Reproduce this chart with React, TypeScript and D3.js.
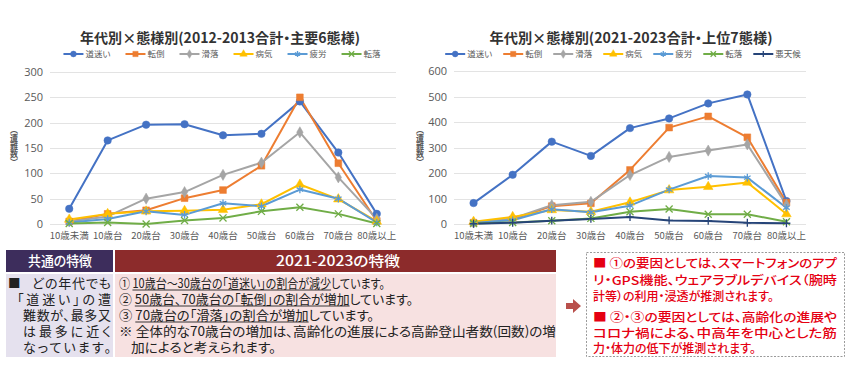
import React, { useRef, useEffect } from 'react';
import * as d3 from 'd3';

// categories
const ages = ['10歳未満', '10歳台', '20歳台', '30歳台', '40歳台', '50歳台', '60歳台', '70歳台', '80歳以上'];
const seriesNames = ['道迷い', '転倒', '滑落', '病気', '疲労', '転落', '悪天候'];
const seriesColors = ['#4472C4', '#ED7D31', '#A5A5A5', '#FFC000', '#5B9BD5', '#70AD47', '#264478'];

// 2012-2013 (main 6)
const lost2013 = [30, 165, 196, 197, 175, 178, 242, 141, 20];
const fall2013 = [5, 20, 27, 51, 67, 115, 250, 120, 6];
const slip2013 = [5, 15, 50, 63, 97, 121, 181, 92, 10];
const ill2013 = [9, 20, 25, 26, 28, 39, 78, 49, 5];
const tired2013 = [3, 10, 25, 18, 41, 35, 68, 50, 3];
const drop2013 = [1, 3, 0, 7, 12, 25, 33, 20, 1];

// 2021-2023 (top 7)
const lost2023 = [82, 193, 323, 267, 376, 414, 473, 508, 90];
const fall2023 = [5, 18, 70, 81, 212, 378, 422, 340, 84];
const slip2023 = [6, 22, 74, 87, 192, 263, 288, 312, 75];
const ill2023 = [9, 28, 55, 48, 85, 133, 146, 163, 39];
const tired2023 = [4, 15, 58, 46, 72, 135, 188, 182, 64];
const drop2023 = [2, 6, 13, 22, 48, 59, 38, 38, 9];
const weather2023 = [1, 5, 13, 20, 27, 14, 12, 5, 3];

const yTicksLeft = [0, 50, 100, 150, 200, 250, 300];
const yTicksRight = [0, 100, 200, 300, 400, 500, 600];

const titleLeft = '年代別×態様別(2012-2013合計・主要6態様)';
const titleRight = '年代別×態様別(2021-2023合計・上位7態様)';
const yTitle = '（遭難数）';

const commonHead = '共通の特徴';
const recentHead = '2021-2023の特徴';
const commonLines = ['どの年代でも', '「道迷い」の遭', '難数が、最多又', 'は最多に近く', 'なっています。'];
const recentLines = [
  [['① ', false], ['10歳台～30歳台の「道迷い」の割合が減少', true], ['しています。', false]],
  [['② ', false], ['50歳台、70歳台の「転倒」の割合が増加', true], ['しています。', false]],
  [['③ ', false], ['70歳台の「滑落」の割合が増加', true], ['しています。', false]],
  [['※ 全体的な70歳台の増加は、高齢化の進展による高齢登山者数(回数)の増', false]],
  [['加によると考えられます。', false]],
];
const noteLines = [
  ['■ ①の要因としては、スマートフォンのアプ', 'リ・GPS機能、ウェアラブルデバイス（腕時', '計等）の利用・浸透が推測されます。'],
  ['■ ②・③の要因としては、高齢化の進展や', 'コロナ禍による、中高年を中心とした筋', '力・体力の低下が推測されます。'],
];

const FONT = '"Noto Sans CJK JP", "Noto Sans", sans-serif';

const markers = {
  道迷い: { type: d3.symbolCircle, size: 44, fill: true },
  転倒: { type: d3.symbolSquare, size: 46, fill: true },
  滑落: { type: d3.symbolDiamond, size: 36, fill: true },
  病気: { type: d3.symbolTriangle, size: 40, fill: true },
  疲労: { type: d3.symbolAsterisk, size: 40, fill: false },
  転落: { type: d3.symbolTimes, size: 34, fill: false },
  悪天候: { type: d3.symbolPlus, size: 22, fill: false },
};

const App = () => {
  const svgRef = useRef(null);

  useEffect(() => {
    const svg = d3.select(svgRef.current);
    svg.selectAll('*').remove();
    svg.style('font-family', FONT).style('font-feature-settings', '"palt" 1');

    const drawMarker = (g, name, color, x, y, scale = 1) => {
      const m = markers[name];
      g.append('path')
        .attr('transform', `translate(${x},${y})`)
        .attr('d', d3.symbol().type(m.type).size(m.size * scale)())
        .attr('fill', m.fill ? color : 'none')
        .attr('stroke', color)
        .attr('stroke-width', m.fill ? 0.5 : 1.3);
    };

    const drawChart = ({ series, yTicks, yMax, x0, x1, yTop, yBottom, title, titleX, titleW, legendCx, legendGap, yTitleX }) => {
      const g = svg.append('g');

      const x = d3.scalePoint().domain(ages).range([x0, x1]).padding(0.5);
      const y = d3.scaleLinear().domain([0, yMax]).range([yBottom, yTop]);

      // title
      g.append('text')
        .attr('x', titleX)
        .attr('y', 43)
        .attr('text-anchor', 'middle')
        .attr('font-size', 14)
        .attr('font-weight', 'bold')
        .attr('fill', '#333')
        .attr('textLength', titleW)
        .attr('lengthAdjust', 'spacingAndGlyphs')
        .text(title);

      // grid
      g.append('g')
        .selectAll('line')
        .data(yTicks)
        .join('line')
        .attr('x1', x0)
        .attr('x2', x1)
        .attr('y1', d => Math.round(y(d)) + 0.5)
        .attr('y2', d => Math.round(y(d)) + 0.5)
        .attr('stroke', '#E3E3E3');

      // y labels
      g.append('g')
        .selectAll('text')
        .data(yTicks)
        .join('text')
        .attr('x', x0 - 7)
        .attr('y', d => y(d) + 4)
        .attr('text-anchor', 'end')
        .attr('font-size', 11)
        .attr('fill', '#595959')
        .style('font-family', '"Open Sans", "Noto Sans", sans-serif')
        .text(d => d);

      // x labels
      g.append('g')
        .selectAll('text')
        .data(ages)
        .join('text')
        .attr('x', d => x(d))
        .attr('y', yBottom + 15)
        .attr('text-anchor', 'middle')
        .attr('font-size', 9.5)
        .attr('fill', '#595959')
        .text(d => d);

      // y title (vertical)
      g.append('text')
        .attr('x', yTitleX)
        .attr('y', 146)
        .attr('text-anchor', 'middle')
        .style('writing-mode', 'vertical-rl')
        .attr('font-size', 8)
        .attr('font-weight', 'bold')
        .attr('fill', '#595959')
        .text(yTitle);

      // lines
      const line = d3.line().x((d, i) => x(ages[i])).y(d => y(d));
      series.forEach(s => {
        g.append('path')
          .datum(s.values)
          .attr('fill', 'none')
          .attr('stroke', s.color)
          .attr('stroke-width', 2)
          .attr('stroke-linejoin', 'round')
          .attr('d', line);
      });
      series.forEach(s => {
        s.values.forEach((v, i) => drawMarker(g, s.name, s.color, x(ages[i]), y(v)));
      });

      // legend
      const lg = g.append('g');
      const items = series.map(s => {
        const it = lg.append('g');
        it.append('line').attr('x1', 0).attr('x2', 20).attr('y1', 0).attr('y2', 0)
          .attr('stroke', s.color).attr('stroke-width', 2);
        drawMarker(it, s.name, s.color, 10, 0, 0.6);
        const t = it.append('text').attr('x', 22).attr('y', 3)
          .attr('font-size', 8.5).attr('fill', '#595959').text(s.name);
        return { it, w: 22 + t.node().getComputedTextLength() };
      });
      const total = d3.sum(items, d => d.w) + legendGap * (items.length - 1);
      let cx = legendCx - total / 2;
      items.forEach(d => {
        d.it.attr('transform', `translate(${cx},54)`);
        cx += d.w + legendGap;
      });
    };

    const mk = (vals) => vals.map((values, i) => ({ name: seriesNames[i], color: seriesColors[i], values }));

    drawChart({
      series: mk([lost2013, fall2013, slip2013, ill2013, tired2013, drop2013]),
      yTicks: yTicksLeft, yMax: 300, x0: 50, x1: 396, yTop: 72, yBottom: 224,
      title: titleLeft, titleX: 220, titleW: 280, legendCx: 222, legendGap: 15, yTitleX: 14,
    });
    drawChart({
      series: mk([lost2023, fall2023, slip2023, ill2023, tired2023, drop2023, weather2023]),
      yTicks: yTicksRight, yMax: 600, x0: 454, x1: 806, yTop: 71, yBottom: 224,
      title: titleRight, titleX: 631, titleW: 283, legendCx: 623, legendGap: 11, yTitleX: 420,
    });

    // bottom panels
    const b = svg.append('g');
    b.append('rect').attr('x', 6).attr('y', 250).attr('width', 107).attr('height', 22).attr('fill', '#3D2D5C');
    b.append('rect').attr('x', 115).attr('y', 250).attr('width', 441).attr('height', 22).attr('fill', '#8C2B2B');
    b.append('rect').attr('x', 6).attr('y', 274).attr('width', 107).attr('height', 83).attr('fill', '#E5E1EE');
    b.append('rect').attr('x', 115).attr('y', 274).attr('width', 441).attr('height', 83).attr('fill', '#F7E1E1');

    b.append('text').attr('x', 60).attr('y', 266).attr('text-anchor', 'middle')
      .attr('font-size', 13.5).attr('font-weight', 500).attr('fill', '#fff')
      .attr('textLength', 64).attr('lengthAdjust', 'spacingAndGlyphs').text(commonHead);
    b.append('text').attr('x', 338).attr('y', 266).attr('text-anchor', 'middle')
      .attr('font-size', 14).attr('font-weight', 500).attr('fill', '#fff')
      .attr('textLength', 124).attr('lengthAdjust', 'spacingAndGlyphs').text(recentHead);

    const base = 287.5, step = 16;
    b.append('text').attr('x', 8).attr('y', base).attr('font-size', 12.5).attr('fill', '#222').text('■');
    commonLines.forEach((l, i) => {
      const x = i === 0 ? 32 : i === 1 ? 17 : 23;
      b.append('text')
        .attr('x', x)
        .attr('y', base + i * step)
        .attr('font-size', 13)
        .attr('fill', '#222')
        .attr('textLength', 111 - x)
        .attr('lengthAdjust', 'spacing')
        .text(l);
    });

    const recentWidths = [266, 294, 255, 437, 145];
    recentLines.forEach((segs, i) => {
      const t = b.append('text')
        .attr('x', i === 4 ? 131 : 119)
        .attr('y', base + i * step)
        .attr('font-size', 13)
        .attr('fill', '#222')
        .attr('textLength', recentWidths[i])
        .attr('lengthAdjust', 'spacingAndGlyphs');
      const spans = segs.map(([s, u]) => ({ node: t.append('tspan').text(s).node(), u }));
      // underline drawn from the laid-out glyph positions
      spans.filter(d => d.u).forEach(d => {
        const n = d.node.getNumberOfChars();
        const s = d.node.getStartPositionOfChar(0);
        const e = d.node.getEndPositionOfChar(n - 1);
        b.append('line')
          .attr('x1', s.x).attr('x2', e.x)
          .attr('y1', base + i * step + 2.5).attr('y2', base + i * step + 2.5)
          .attr('stroke', '#222').attr('stroke-width', 0.9);
      });
    });

    // arrow
    b.append('path')
      .attr('d', 'M566,303H573V299L581,306L573,313V309H566Z')
      .attr('fill', '#B9504C');

    // note box
    b.append('rect').attr('x', 586.5).attr('y', 252.5).attr('width', 258).attr('height', 104)
      .attr('fill', '#fff').attr('stroke', '#9A9A9A').attr('stroke-dasharray', '2,1.5');
    const noteY = [[267.5, 284.5, 301], [321.5, 338, 353]];
    noteLines.forEach((para, p) => {
      para.forEach((l, i) => {
        const t = b.append('text')
          .attr('x', 593)
          .attr('y', noteY[p][i])
          .attr('font-size', 12)
          .attr('font-weight', 500)
          .attr('fill', '#E50012')
          .text(l);
        if (i < 2) t.attr('textLength', 244).attr('lengthAdjust', 'spacingAndGlyphs');
      });
    });
  }, []);

  return (
    <svg
      ref={svgRef}
      width={850}
      height={374}
      style={{ position: 'absolute', left: 0, top: 0, background: '#fff', display: 'block' }}
    />
  );
};

export default App;
